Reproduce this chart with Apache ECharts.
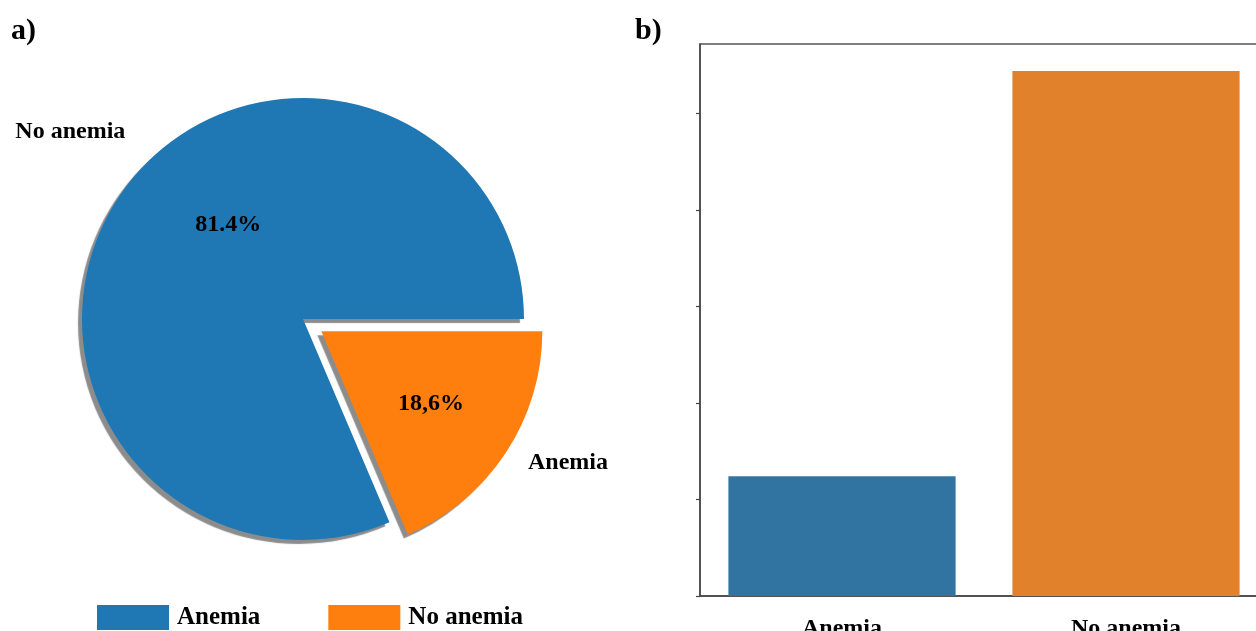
<!DOCTYPE html>
<html>
<head>
<meta charset="utf-8">
<title>Anemia prevalence</title>
<script src="https://cdn.jsdelivr.net/npm/echarts@6/dist/echarts.min.js"></script>
<style>
  html, body { margin: 0; padding: 0; background: #ffffff; }
  #chart { width: 1256px; height: 631px; }
</style>
</head>
<body>
<div id="chart"></div>
<script>
// Categories and colours
const categories = ['Anemia', 'No anemia'];
const pieColors = ['#1f77b4', '#ff7f0e'];
const barColors = ['#3274a1', '#e1812c'];

// Panel a) shares (%) and the text written beside each slice
const pieShares = [81.4, 18.6];
const pieDecimalSep = ['.', ','];
const pieSliceLabels = ['No anemia', 'Anemia'];

// Panel b) counts per group and the y positions that carry a tick mark
const barCounts = [62, 272];
const yTickValues = [0, 50, 100, 150, 200, 250];

const serif = "'Liberation Serif', 'Times New Roman', serif";
const pieCenter = [303, 319];
const pieRadius = 221;

// label offsets from the default inside anchor of each slice
const pctOffsets = [[20, -32], [15, 10]];
const nameOffsets = [[-138, -125], [152, 69]];

const chart = echarts.init(document.getElementById('chart'), null, { renderer: 'canvas' });

const pieBase = {
  type: 'pie',
  center: pieCenter,
  radius: [0, pieRadius],
  startAngle: 0,
  clockwise: false,
  selectedMode: 'single',
  selectedOffset: 22,
  avoidLabelOverlap: false,
  emphasis: { disabled: true },
  labelLine: { show: false }
};

const labelFont = { fontFamily: serif, fontWeight: 'bold', fontSize: 24, color: '#000' };

const option = {
  animation: false,
  title: [
    { text: 'a)', left: 11, top: 16, padding: 0,
      textStyle: { fontFamily: serif, fontWeight: 'bold', fontSize: 30, color: '#000' } },
    { text: 'b)', left: 635, top: 16, padding: 0,
      textStyle: { fontFamily: serif, fontWeight: 'bold', fontSize: 30, color: '#000' } }
  ],
  legend: {
    data: categories,
    left: 97,
    top: 605,
    icon: 'rect',
    itemWidth: 72,
    itemHeight: 25,
    itemGap: 68,
    padding: 0,
    selectedMode: false,
    textStyle: Object.assign({ padding: [0, 0, 0, 3] }, labelFont, { fontSize: 25 })
  },
  grid: {
    left: 700,
    top: 44,
    width: 568,
    height: 552,
    outerBoundsMode: 'none',
    containLabel: false,
    show: true,
    borderColor: '#555',
    borderWidth: 1.5,
    backgroundColor: 'transparent'
  },
  xAxis: {
    type: 'category',
    data: categories,
    boundaryGap: true,
    axisLine: { lineStyle: { color: '#444', width: 1.5 } },
    axisTick: { alignWithLabel: true, length: 4, lineStyle: { color: '#444', width: 1.2 } },
    axisLabel: Object.assign({ margin: 21 }, labelFont)
  },
  yAxis: {
    type: 'value',
    min: 0,
    max: 286,
    interval: 50,
    splitLine: { show: false },
    axisLine: { show: true, lineStyle: { color: '#444', width: 1.5 } },
    axisTick: { show: true, length: 4, customValues: yTickValues, lineStyle: { color: '#444', width: 1.2 } },
    axisLabel: { show: false }
  },
  series: [
    Object.assign({}, pieBase, {
      name: 'share',
      itemStyle: {
        shadowColor: 'rgba(0,0,0,0.45)',
        shadowBlur: 1,
        shadowOffsetX: -4,
        shadowOffsetY: 4
      },
      label: Object.assign({
        show: true,
        position: 'inside',
        formatter: p => p.value.toFixed(1).replace('.', pieDecimalSep[p.dataIndex]) + '%'
      }, labelFont),
      data: categories.map((c, i) => ({
        name: c,
        value: pieShares[i],
        selected: i === 1,
        itemStyle: { color: pieColors[i] },
        label: { offset: pctOffsets[i] },
        select: { label: { offset: pctOffsets[i] } }
      }))
    }),
    Object.assign({}, pieBase, {
      name: 'names',
      silent: true,
      itemStyle: { color: 'rgba(0,0,0,0)' },
      label: Object.assign({
        show: true,
        position: 'inside',
        formatter: p => pieSliceLabels[p.dataIndex]
      }, labelFont),
      data: categories.map((c, i) => ({
        name: c,
        value: pieShares[i],
        selected: i === 1,
        itemStyle: { color: 'rgba(0,0,0,0)' },
        label: { offset: nameOffsets[i] },
        select: { label: { offset: nameOffsets[i] } }
      }))
    }),
    {
      type: 'bar',
      barCategoryGap: '20%',
      emphasis: { disabled: true },
      data: barCounts.map((v, i) => ({ value: v, itemStyle: { color: barColors[i] } }))
    }
  ]
};

chart.setOption(option);
</script>
</body>
</html>
